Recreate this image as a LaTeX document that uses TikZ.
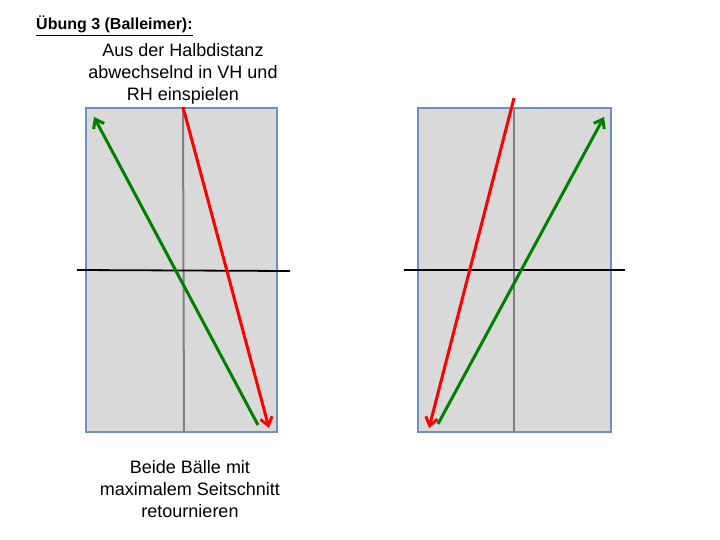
\documentclass[tikz,border=0pt]{standalone}
\usepackage{fontspec}
\setmainfont{Liberation Sans}
\usetikzlibrary{arrows.meta}
\definecolor{courtfill}{RGB}{217,217,217}
\definecolor{courtedge}{RGB}{110,145,195}
\definecolor{midgray}{RGB}{128,128,128}
\definecolor{ballred}{RGB}{255,0,0}
\definecolor{ballgreen}{RGB}{0,128,0}
\begin{document}
\begin{tikzpicture}[x=1pt,y=-1pt,
  court/.style={fill=courtfill,draw=courtedge,line width=2pt},
  midline/.style={draw=midgray,line width=2pt},
  netline/.style={draw=black,line width=1.8pt},
  shot/.style={line width=3pt,-{Straight Barb[length=8pt,width=12pt,line width=3pt]}},
  txt/.style={font=\fontsize{18}{22}\selectfont,align=center,inner sep=0pt}]
\useasboundingbox (0,0) rectangle (720,540);
% left court
\draw[court] (86,108) rectangle (277,432);
\coordinate (lmt) at (183,108); \coordinate (lmb) at (184,432);
\draw[midline] (lmt) -- (lmb);
\coordinate (lnl) at (77,270); \coordinate (lnr) at (290,271);
\draw[netline] (lnl) -- (lnr);
\coordinate (lgs) at (258,425); \coordinate (lge) at (94,117);
\draw[shot,ballgreen] (lgs) -- (lge);
\coordinate (lrs) at (183,107); \coordinate (lre) at (269,428);
\draw[shot,ballred] (lrs) -- (lre);
% right court
\draw[court] (418,108) rectangle (611,432);
\coordinate (rmt) at (514,108); \coordinate (rmb) at (514,432);
\draw[midline] (rmt) -- (rmb);
\coordinate (rnl) at (404,270); \coordinate (rnr) at (625,270);
\draw[netline] (rnl) -- (rnr);
\coordinate (rrs) at (514,98); \coordinate (rre) at (429,428);
\draw[shot,ballred] (rrs) -- (rre);
\coordinate (rgs) at (438,424); \coordinate (rge) at (604,117);
\draw[shot,ballgreen] (rgs) -- (rge);
% texts
\node[anchor=base west,inner sep=0pt,font=\fontsize{16}{18}\selectfont\bfseries] (title) at (36,30) {\underline{Übung 3 (Balleimer):}};
\node[txt] (top) at (183,74) {Aus der Halbdistanz\\abwechselnd in VH und\\RH einspielen};
\node[txt] (bot) at (190,489) {Beide Bälle mit\\maximalem Seitschnitt\\retournieren};
\end{tikzpicture}
\end{document}
